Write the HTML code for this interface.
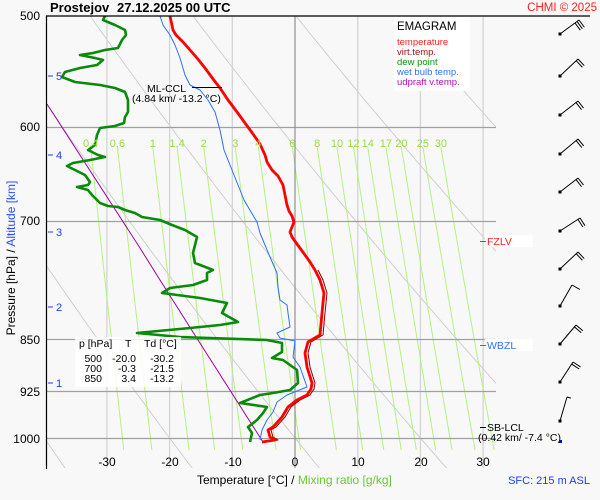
<!DOCTYPE html>
<html><head><meta charset="utf-8"><style>
html,body{margin:0;padding:0;background:#f8f8f8;}
svg{display:block;font-family:"Liberation Sans",sans-serif;}
</style></head><body>
<svg id="s" width="600" height="500" viewBox="0 0 600 500" xmlns="http://www.w3.org/2000/svg">
<rect width="600" height="500" fill="#f8f8f8"/>
<defs><clipPath id="c"><rect x="46" y="16" width="450" height="452"/></clipPath></defs>
<g id="grid" clip-path="url(#c)"></g>
<g id="data"></g>
<line x1="46" y1="16" x2="590" y2="16" stroke="#000" stroke-width="1.2"/>
<line x1="46.5" y1="16" x2="46.5" y2="469" stroke="#000" stroke-width="1.2"/>
<text x="50" y="12" font-size="13" font-weight="bold">Prostejov</text>
<text x="117" y="12" font-size="13" font-weight="bold">27.12.2025 00 UTC</text>
<text x="597" y="11" font-size="11.5" fill="#ff2020" text-anchor="end">CHMI © 2025</text>
<g font-size="12" text-anchor="end">
<text x="40" y="20">500</text><text x="40" y="131">600</text><text x="40" y="225">700</text>
<text x="40" y="344">850</text><text x="40" y="396">925</text><text x="40" y="443">1000</text>
</g>
<g font-size="11" fill="#1c3cff">
<text x="56" y="80">5</text><text x="56" y="159">4</text><text x="56" y="236">3</text>
<text x="56" y="311">2</text><text x="56" y="387">1</text>
<line x1="48" y1="76" x2="53" y2="76" stroke="#1c3cff"/><line x1="48" y1="155" x2="53" y2="155" stroke="#1c3cff"/>
<line x1="48" y1="232" x2="53" y2="232" stroke="#1c3cff"/><line x1="48" y1="307" x2="53" y2="307" stroke="#1c3cff"/>
<line x1="48" y1="383" x2="53" y2="383" stroke="#1c3cff"/>
</g>
<text transform="translate(15,258) rotate(-90)" font-size="12" text-anchor="middle"><tspan>Pressure [hPa]  /  </tspan><tspan fill="#2a50ff">Altitude [km]</tspan></text>
<g font-size="12" text-anchor="middle">
<text x="107" y="466">-30</text><text x="170" y="466">-20</text><text x="233" y="466">-10</text>
<text x="295" y="466">0</text><text x="358" y="466">10</text><text x="421" y="466">20</text><text x="483" y="466">30</text>
</g>
<text x="197" y="484" font-size="12">Temperature [°C]  /  <tspan fill="#66cc33">Mixing ratio [g/kg]</tspan></text>
<text x="590" y="484" font-size="11" fill="#1c3cff" text-anchor="end">SFC: 215 m ASL</text>
<rect x="394" y="17" width="76" height="74" fill="#fff"/>
<text x="397" y="30" font-size="11.5">EMAGRAM</text>
<g font-size="9.5">
<text x="397" y="45" fill="#ff2020">temperature</text>
<text x="397" y="55" fill="#a01010">virt.temp.</text>
<text x="397" y="65" fill="#109010">dew point</text>
<text x="397" y="75" fill="#3070ff">wet bulb temp.</text>
<text x="397" y="85" fill="#b010b0">udpraft v.temp.</text>
</g>
<rect x="75" y="337" width="106" height="50" fill="#fff" opacity="0.85"/>
<g font-size="10.5">
<text x="79" y="347">p [hPa]</text><text x="125" y="347">T</text><text x="144" y="347">Td [°C]</text>
<g text-anchor="end">
<text x="102" y="362">500</text><text x="136" y="362">-20.0</text><text x="174" y="362">-30.2</text>
<text x="102" y="372">700</text><text x="136" y="372">-0.3</text><text x="174" y="372">-21.5</text>
<text x="102" y="382">850</text><text x="136" y="382">3.4</text><text x="174" y="382">-13.2</text>
</g></g>
<line x1="192" y1="87.5" x2="222" y2="87.5" stroke="#000"/>
<g font-size="10.5">
<text x="147" y="92">ML-CCL</text>
<text x="132" y="102">(4.84 km/ -13.2 °C)</text>
</g>
<rect x="485" y="235" width="48" height="12" fill="#fff"/>
<line x1="480" y1="241.5" x2="486" y2="241.5" stroke="#ff2020"/>
<text x="487" y="245" font-size="10.5" fill="#ff2020">FZLV</text>
<rect x="485" y="339" width="48" height="12" fill="#fff"/>
<line x1="480" y1="345.5" x2="486" y2="345.5" stroke="#3070ff"/>
<text x="487" y="349" font-size="10.5" fill="#3070ff">WBZL</text>
<line x1="480" y1="427.5" x2="486" y2="427.5" stroke="#000"/>
<g font-size="10.5"><text x="487" y="431">SB-LCL</text><text x="478" y="441">(0.42 km/ -7.4 °C)</text></g>
<rect x="559" y="440" width="3" height="3" fill="#0000ee"/>
<g id="barbs" stroke="#000" stroke-width="1" fill="none"></g>
</svg>
<script>
var NS="http://www.w3.org/2000/svg";
function el(p,t,a){var e=document.createElementNS(NS,t);for(var k in a)e.setAttribute(k,a[k]);p.appendChild(e);return e;}
function X(t){return 295+t*6.27;}
function Y(p){return 16+608.8*Math.log(p/500);}
var g=document.getElementById('grid'),d=document.getElementById('data');
for(var th=-40;th<=220;th+=20){var pts=[];for(var p=450;p<=1060;p+=10){var T=(th+273.15)*Math.pow(p/1000,0.2857)-273.15;pts.push(X(T).toFixed(1)+','+Y(p).toFixed(1));}
el(g,'polyline',{points:pts.join(' '),fill:'none',stroke:'#d0d0d0','stroke-width':1});}
for(var t=-40;t<=30;t+=10){if(t==0)continue;el(g,'line',{x1:X(t),y1:16,x2:X(t),y2:468,stroke:'#d4d4d4','stroke-width':1.3});}
var ws=[0.4,0.6,1,1.4,2,3,4,6,8,10,12,14,17,20,25,30];
ws.forEach(function(w){var pts=[];var top=0;for(var p=620;p<=1020;p+=8){var e=w*p/(622+w);var l=Math.log(e/6.112);var T=243.5*l/(17.67-l);pts.push(X(T).toFixed(1)+','+Y(p).toFixed(1));if(p==620)top=X(T);}
el(g,'polyline',{points:pts.join(' '),fill:'none',stroke:'#b4f280','stroke-width':1});
var tx=el(document.getElementById('s'),'text',{x:top,y:147,'font-size':11,fill:'#99dd44','text-anchor':'middle'});tx.textContent=String(w);});
[600,700,850,925,1000].forEach(function(p){el(g,'line',{x1:46,y1:Math.round(Y(p))+0.5,x2:496,y2:Math.round(Y(p))+0.5,stroke:'#a0a0a0','stroke-width':1.2});});
el(g,'line',{x1:X(0),y1:16,x2:X(0),y2:468,stroke:'#909090','stroke-width':1.2});
function pl(arr,col,w,dx){var s=arr.map(function(a){return (a[0]+(dx||0))+','+a[1];}).join(' ');el(d,'polyline',{points:s,fill:'none',stroke:col,'stroke-width':w,'stroke-linejoin':'round'});}
var red=[[170,16],[173,30],[176,35],[183,42],[190,50],[197,58],[205,68],[213,79],[220,88],[228,100],[237,112],[245,123],[253,134],[260,144],[265,155],[267,162],[272,170],[278,176],[283,185],[285,195],[287,205],[289,211],[292,216],[294,222],[292,227],[290,232],[292,237],[297,244],[305,255],[310,262],[315,270],[320,280],[324,293],[322,313],[320,335],[308,342],[305,353],[307,367],[312,383],[311,389],[307,395],[297,400],[288,407],[282,417],[273,427],[268,430],[270,437],[275,440],[262,442]];
var blue=[[160,16],[163,25],[170,35],[175,45],[180,58],[185,75],[190,85],[200,90],[208,100],[215,112],[220,130],[224,150],[230,165],[236,180],[244,200],[257,222],[260,233],[270,257],[277,273],[278,287],[280,300],[287,305],[288,313],[290,327],[277,333],[280,338],[295,341],[293,357],[300,367],[307,387],[287,395],[277,402],[273,412],[267,420],[262,430],[260,440]];
var grn=[[105,16],[103,20],[115,25],[125,30],[126,35],[122,40],[118,48],[105,50],[93,53],[80,55],[95,58],[103,60],[97,65],[80,68],[65,72],[62,77],[75,82],[100,85],[115,88],[125,92],[128,100],[128,112],[125,117],[124,123],[115,126],[100,128],[97,135],[95,145],[88,150],[98,155],[105,157],[90,160],[73,163],[67,166],[75,170],[85,175],[90,182],[88,185],[77,187],[88,190],[92,195],[100,203],[108,206],[118,207],[125,210],[135,213],[142,217],[160,220],[172,225],[185,230],[197,237],[193,253],[195,263],[213,270],[207,273],[207,280],[193,285],[170,288],[162,293],[200,298],[227,303],[222,313],[238,322],[220,325],[190,328],[137,333],[180,337],[267,340],[282,343],[282,352],[272,358],[283,360],[297,370],[298,383],[290,390],[273,393],[260,395],[240,403],[267,407],[263,413],[257,420],[248,427],[252,433],[250,442]];
pl([[47,104],[140,248],[160,280],[198,340],[263,442]],'#a000a0',1);
pl(blue,'#2a70ff',1);
pl(grn,'#0a8a0a',2.6);
pl(red.slice(30),'#8a0000',1,3);
pl(red,'#ff0000',2.8);
var bb=document.getElementById('barbs');
var B=[[34,579,20,3],[76,578,59,2],[115,578,101,2],[154,578,139,2],[192,578,178,2],[231,580,218,2],[269,578,252,2],[306,572,285,1],[344,576,325,2],[382,573,362,2],[421,567,397,0.5]];
B.forEach(function(b){var x0=560,y0=b[0],x1=b[1],y1=b[2];el(bb,'line',{x1:x0,y1:y0,x2:x1,y2:y1});
el(bb,'rect',{x:x0-1.5,y:y0-1.5,width:3,height:3,fill:'#000',stroke:'none'});
var dx=x1-x0,dy=y1-y0,L=Math.sqrt(dx*dx+dy*dy);var ux=dx/L,uy=dy/L;var px=-uy,py=ux;if(px<0){px=-px;py=-py;}
var n=b[3];for(var i=0;i<Math.ceil(n);i++){var sx=x1-ux*i*2.5,sy=y1-uy*i*2.5;var len=(n-i<1)?4:9;el(bb,'line',{x1:sx,y1:sy,x2:sx+px*len,y2:sy+py*len});}});
</script>
</body></html>
